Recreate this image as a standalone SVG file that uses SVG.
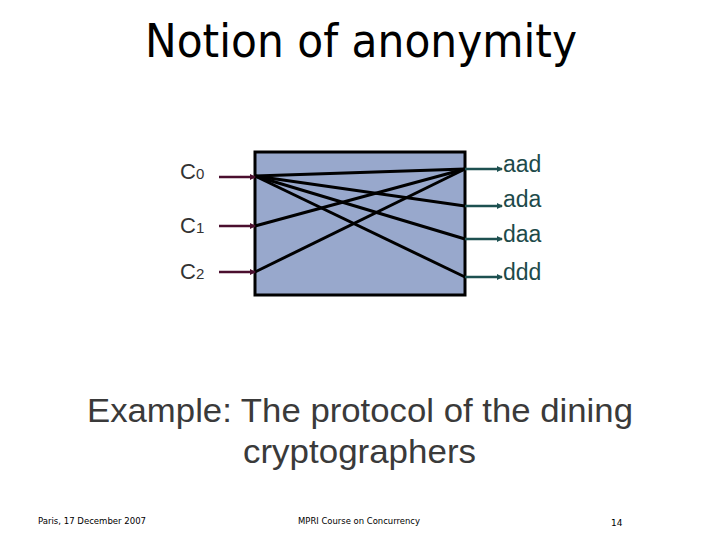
<svg xmlns="http://www.w3.org/2000/svg" width="720" height="540" viewBox="0 0 720 540">
<style>
.title{font-family:"DejaVu Sans",sans-serif;font-size:46px;fill:#000}
.sub{font-family:"Liberation Sans",Arial,sans-serif;font-size:34px;fill:#3a3a3a}
.in{font-family:"Liberation Sans",Arial,sans-serif;font-size:22px;fill:#333}
.insub{font-size:15px}
.out{font-family:"Liberation Sans",Arial,sans-serif;font-size:23px;fill:#1d4a4a}
.foot{font-family:"DejaVu Sans",sans-serif;font-size:9px;fill:#000}
.wire{stroke:#000;stroke-width:3;fill:none}
.inarr{stroke:#4a0f2e;stroke-width:2.5;fill:none}
.outarr{stroke:#1d5050;stroke-width:2.5;fill:none}
</style>
<defs>
<marker id="ai" markerWidth="6" markerHeight="6" refX="5" refY="3" orient="auto" markerUnits="userSpaceOnUse"><path d="M0,0 L6,3 L0,6 z" fill="#4a0f2e"/></marker>
<marker id="ao" markerWidth="6" markerHeight="6" refX="5" refY="3" orient="auto" markerUnits="userSpaceOnUse"><path d="M0,0 L6,3 L0,6 z" fill="#1d5050"/></marker>
</defs>
<rect width="720" height="540" fill="#fff"/>
<text class="title" x="145" y="57" textLength="432" lengthAdjust="spacingAndGlyphs">Notion of anonymity</text>
<g id="box"><rect x="255" y="152" width="210" height="143" fill="#98a8cc" stroke="#000" stroke-width="3"/></g>
<g id="connectors">
<line class="wire" x1="255" y1="176" x2="465" y2="169"/>
<line class="wire" x1="255" y1="176" x2="465" y2="206"/>
<line class="wire" x1="255" y1="176" x2="465" y2="239"/>
<line class="wire" x1="255" y1="176" x2="465" y2="277"/>
<line class="wire" x1="255" y1="226" x2="465" y2="169"/>
<line class="wire" x1="255" y1="272" x2="465" y2="169"/>
<line class="inarr" x1="219" y1="177" x2="255" y2="177" marker-end="url(#ai)"/>
<line class="inarr" x1="219" y1="226" x2="255" y2="226" marker-end="url(#ai)"/>
<line class="inarr" x1="219" y1="272" x2="255" y2="272" marker-end="url(#ai)"/>
<line class="outarr" x1="465" y1="169" x2="502" y2="169" marker-end="url(#ao)"/>
<line class="outarr" x1="465" y1="206" x2="502" y2="206" marker-end="url(#ao)"/>
<line class="outarr" x1="465" y1="239" x2="502" y2="239" marker-end="url(#ao)"/>
<line class="outarr" x1="465" y1="277" x2="502" y2="277" marker-end="url(#ao)"/>
</g>
<g id="c0"><text class="in" x="180" y="179">C<tspan class="insub">0</tspan></text></g>
<g id="c1"><text class="in" x="180" y="233">C<tspan class="insub">1</tspan></text></g>
<g id="c2"><text class="in" x="180" y="279">C<tspan class="insub">2</tspan></text></g>
<g id="aad"><text class="out" x="503" y="172">aad</text></g>
<g id="ada"><text class="out" x="503" y="207">ada</text></g>
<g id="daa"><text class="out" x="503" y="242">daa</text></g>
<g id="ddd"><text class="out" x="503" y="280">ddd</text></g>
<text class="sub" x="87" y="422" textLength="546" lengthAdjust="spacingAndGlyphs">Example: The protocol of the dining</text>
<text class="sub" x="243" y="463" textLength="233" lengthAdjust="spacingAndGlyphs">cryptographers</text>
<text class="foot" x="38" y="524" textLength="108" lengthAdjust="spacingAndGlyphs">Paris, 17 December 2007</text>
<text class="foot" x="298" y="524" textLength="122" lengthAdjust="spacingAndGlyphs">MPRI Course on Concurrency</text>
<text class="foot" x="611" y="526">14</text>
</svg>
